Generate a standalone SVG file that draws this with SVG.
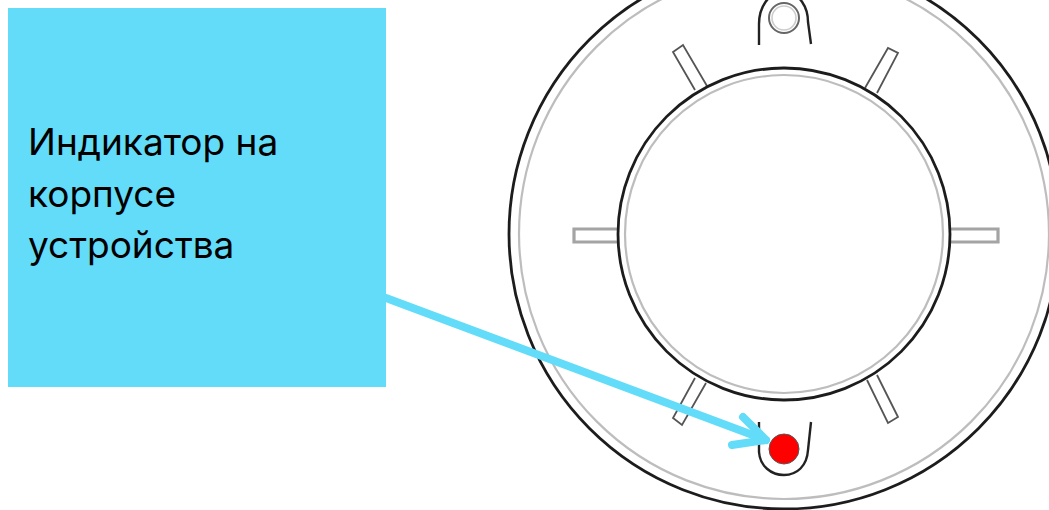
<svg xmlns="http://www.w3.org/2000/svg" width="1049" height="510" viewBox="0 0 1049 510">
<defs><filter id="soft" x="-5%" y="-5%" width="110%" height="110%"><feGaussianBlur stdDeviation="0.6"/></filter></defs>
<style>
.k{fill:none;stroke:#1c1c1c;stroke-width:2.8}
.u{fill:none;stroke:#222;stroke-width:2.4}
.g{fill:none;stroke:#bdbdbd;stroke-width:2.2}
.p{fill:none;stroke:#555;stroke-width:1.8}
.s{fill:none;stroke:#a4a4a4;stroke-width:3.2}
.t{font-family:Inter,"Noto Sans",sans-serif;font-size:37px;fill:#000}
.a{fill:none;stroke:#62dcf9;stroke-width:8;stroke-linecap:round;stroke-linejoin:round}
</style>
<rect width="1049" height="510" fill="#fff"/>
<g id="detector" filter="url(#soft)">
<circle class="k" cx="784" cy="234" r="275"/>
<circle class="g" cx="784" cy="234" r="265"/>
<path class="p" d="M695 90L673 52L683 45L707 86"/>
<path class="p" d="M865 88L888 48L898 53L877 93"/>
<path class="s" d="M618 229H574V242H618"/>
<path class="s" d="M950 229H998V242H950"/>
<path class="p" d="M695 378L673 418L682 425L706 383"/>
<path class="p" d="M867 380L888 423L898 417L877 375"/>
<circle class="k" cx="784" cy="234" r="166"/>
<circle class="g" cx="784" cy="234" r="159"/>
<path class="u" d="M759 45V24C759 8 768 -8 784 -8C800 -8 808 8 808 22L811 44"/>
<circle cx="784" cy="18" r="15" fill="none" stroke="#666" stroke-width="2"/>
<circle cx="784" cy="18" r="12" fill="none" stroke="#ccc" stroke-width="1.6"/>
<path class="u" d="M759 422V452C760 466 771 475 784 475C797 475 807 466 808 450L811 422"/>
<circle id="led" cx="784" cy="449" r="15" fill="#f00" stroke="#555" stroke-width="1"/>
</g>
<g id="connectors">
<path class="a" d="M386 298L766 440"/>
<path class="a" d="M743 417L766 440L732 445"/>
</g>
<g id="label">
<rect x="8" y="8" width="378" height="379" fill="#62dcf9"/>
<text class="t" x="28" y="155">Индикатор на</text>
<text class="t" x="28" y="207">корпусе</text>
<text class="t" x="28" y="258">устройства</text>
</g>
</svg>
